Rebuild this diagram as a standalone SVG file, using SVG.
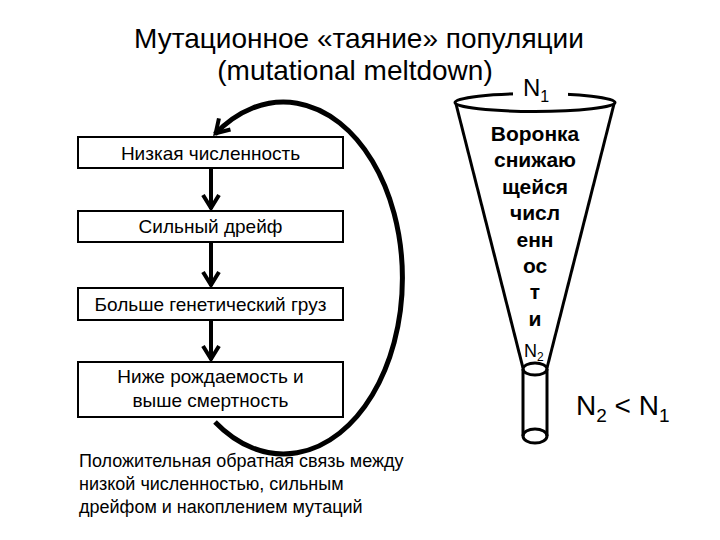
<svg xmlns="http://www.w3.org/2000/svg" width="720" height="540" viewBox="0 0 720 540">
<style>
text{font-family:"Liberation Sans",Arial,sans-serif;fill:#000}
.title{font-size:28px;text-anchor:middle}
.box rect{fill:#fff;stroke:#000;stroke-width:2}
.box text{font-size:19px;text-anchor:middle}
.conn{fill:none;stroke:#000;stroke-width:4}
.funnel{fill:none;stroke:#000;stroke-width:3}
.ftext{font-size:21px;font-weight:bold;text-anchor:middle}
.note{font-size:18px}
</style>
<defs>
<marker id="ah" markerUnits="userSpaceOnUse" markerWidth="30" markerHeight="30" viewBox="-20 -15 30 30" refX="0" refY="0" orient="auto">
<path d="M -14 -8 L -1 0 L -14 8" fill="none" stroke="#000" stroke-width="4" stroke-linejoin="miter"/>
</marker>
</defs>
<g id="title">
<text class="title" x="359" y="48">Мутационное «таяние» популяции</text>
<text class="title" x="355" y="80">(mutational meltdown)</text>
</g>
<g id="box1" class="box">
<rect x="78" y="137" width="265" height="31"/>
<text x="210.5" y="160">Низкая численность</text>
</g>
<g id="box2" class="box">
<rect x="78" y="211" width="265" height="31"/>
<text x="210.5" y="233">Сильный дрейф</text>
</g>
<g id="box3" class="box">
<rect x="78" y="288" width="265" height="32"/>
<text x="210.5" y="311">Больше генетический груз</text>
</g>
<g id="box4" class="box">
<rect x="78" y="362" width="265" height="55"/>
<text x="210.5" y="383">Ниже рождаемость и</text>
<text x="210.5" y="407">выше смертность</text>
</g>
<g id="connectors">
<line class="conn" x1="211" y1="168" x2="211" y2="209" marker-end="url(#ah)"/>
<line class="conn" x1="211" y1="242" x2="211" y2="286" marker-end="url(#ah)"/>
<line class="conn" x1="211" y1="320" x2="211" y2="360" marker-end="url(#ah)"/>
<path class="conn" style="stroke-width:5" d="M 215 422 A 119 176 0 1 0 215 134" marker-end="url(#ah)"/>
</g>
<g id="note">
<text class="note" x="79" y="467">Положительная обратная связь между</text>
<text class="note" x="79" y="490">низкой численностью, сильным</text>
<text class="note" x="79" y="513">дрейфом и накоплением мутаций</text>
</g>
<g id="funnel">
<ellipse class="funnel" cx="535" cy="102.5" rx="80" ry="9"/>
<line class="funnel" x1="456" y1="104" x2="523" y2="368"/>
<line class="funnel" x1="614" y1="104" x2="547" y2="368"/>
<ellipse class="funnel" cx="535" cy="369" rx="12" ry="6"/>
<line class="funnel" x1="523" y1="369" x2="523" y2="436"/>
<line class="funnel" x1="547" y1="369" x2="547" y2="436"/>
<ellipse class="funnel" cx="535" cy="436" rx="12" ry="7"/>
<rect x="513" y="80" width="55" height="17" fill="#fff"/>
<text x="523" y="96" style="font-size:24px">N<tspan style="font-size:16px" dy="6">1</tspan></text>
<text class="ftext" x="535" y="141">Воронка</text>
<text class="ftext" x="535" y="167.4">снижаю</text>
<text class="ftext" x="535" y="193.8">щейся</text>
<text class="ftext" x="535" y="220.2">числ</text>
<text class="ftext" x="535" y="246.6">енн</text>
<text class="ftext" x="535" y="273">ос</text>
<text class="ftext" x="535" y="299.4">т</text>
<text class="ftext" x="535" y="325.8">и</text>
<text x="524" y="357" style="font-size:18px">N<tspan style="font-size:12px" dy="4">2</tspan></text>
</g>
<g id="relation">
<text x="576" y="415" style="font-size:28px">N<tspan style="font-size:19px" dy="7">2</tspan><tspan dy="-7"> &lt; N</tspan><tspan style="font-size:19px" dy="7">1</tspan></text>
</g>
</svg>
